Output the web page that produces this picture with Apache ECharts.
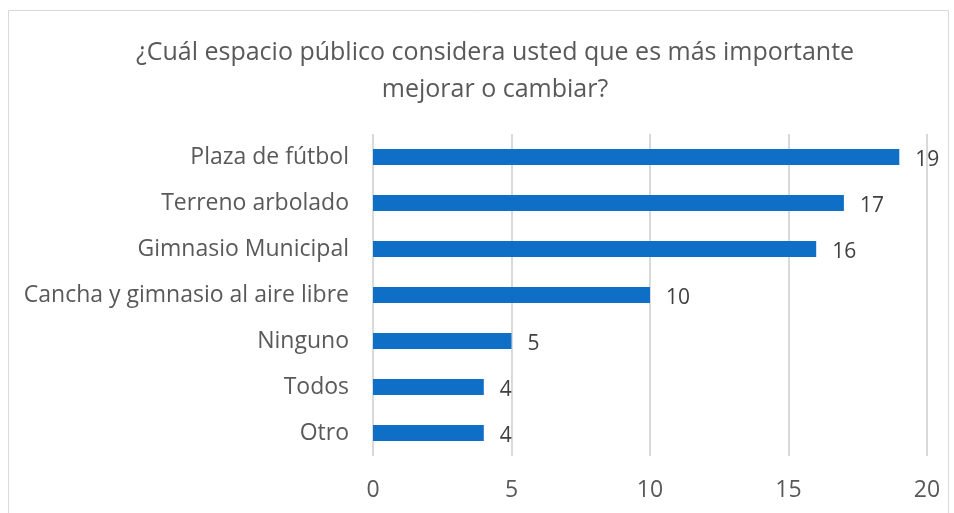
<!DOCTYPE html>
<html>
<head>
<meta charset="utf-8">
<script src="https://cdn.jsdelivr.net/npm/echarts@6/dist/echarts.min.js"></script>
<style>
  html, body { margin: 0; padding: 0; background: #fff; }
  #main { width: 954px; height: 513px; }
</style>
</head>
<body>
<div id="main"></div>
<script>
// datos del gráfico (de arriba hacia abajo)
const categorias = ['Plaza de fútbol', 'Terreno arbolado', 'Gimnasio Municipal', 'Cancha y gimnasio al aire libre', 'Ninguno', 'Todos', 'Otro'];
const respuestas = [19, 17, 16, 10, 5, 4, 4];
const ticksX = [0, 5, 10, 15, 20];

const fuente = '"Open Sans", "Noto Sans", sans-serif';
const chart = echarts.init(document.getElementById('main'));

const option = {
  animation: false,
  title: {
    text: '¿Cuál espacio público considera usted que es más importante\nmejorar o cambiar?',
    left: 490,
    top: 29,
    textAlign: 'center',
    textStyle: {
      fontFamily: fuente,
      fontSize: 25,
      fontWeight: 'normal',
      color: '#595959',
      lineHeight: 37
    }
  },
  graphic: [{
    type: 'rect',
    shape: { x: 8.5, y: 10.5, width: 940, height: 510 },
    style: { fill: 'none', stroke: '#d9d9d9', lineWidth: 1 },
    silent: true
  }],
  grid: { left: 373, right: 27, top: 134, bottom: 57 },
  xAxis: {
    type: 'value',
    min: ticksX[0],
    max: ticksX[ticksX.length - 1],
    interval: 5,
    axisLine: { show: false },
    axisTick: { show: false },
    splitLine: { lineStyle: { color: '#d9d9d9', width: 2 } },
    axisLabel: { fontFamily: fuente, fontSize: 23, color: '#595959', margin: 23 }
  },
  yAxis: {
    type: 'category',
    inverse: true,
    data: categorias,
    axisLine: { show: false },
    axisTick: { show: false },
    axisLabel: { fontFamily: fuente, fontSize: 23, color: '#595959', margin: 24 }
  },
  series: [{
    type: 'bar',
    data: respuestas,
    barWidth: 16,
    itemStyle: { color: '#0f6fc6' },
    label: {
      show: true,
      position: 'right',
      distance: 16,
      offset: [0, 3],
      fontFamily: fuente,
      fontSize: 21,
      color: '#404040'
    }
  }]
};
chart.setOption(option);
</script>
</body>
</html>
